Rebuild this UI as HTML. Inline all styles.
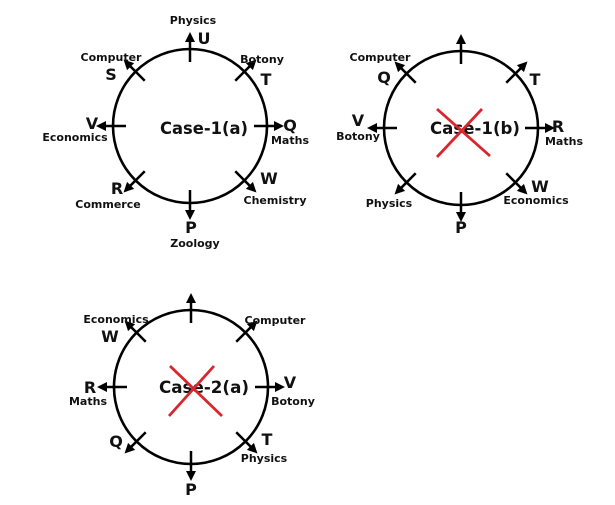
<!DOCTYPE html>
<html><head><meta charset="utf-8"><style>
html,body{margin:0;padding:0;background:#fff;}
svg{display:block;}
text{font-family:"DejaVu Sans","Liberation Sans",sans-serif;font-weight:bold;fill:#111;}
.s{font-size:11px;}
.l{font-size:16px;}
.c{font-size:17px;}
</style></head><body>
<svg width="615" height="505" viewBox="0 0 615 505" xmlns="http://www.w3.org/2000/svg">
<defs>
<g id="ar"><line x1="64" y1="0" x2="86" y2="0" stroke="#000" stroke-width="2.5"/><polygon points="94,0 84,-5 84,5" fill="#000"/></g>
<g id="all">
<circle r="77" fill="none" stroke="#000" stroke-width="2.6"/>
<use href="#ar" transform="rotate(0)"/><use href="#ar" transform="rotate(45)"/>
<use href="#ar" transform="rotate(90)"/><use href="#ar" transform="rotate(135)"/>
<use href="#ar" transform="rotate(180)"/><use href="#ar" transform="rotate(225)"/>
<use href="#ar" transform="rotate(270)"/><use href="#ar" transform="rotate(315)"/>
</g>
</defs>
<use href="#all" transform="translate(190,126)"/>
<use href="#all" transform="translate(461,128)"/>
<use href="#all" transform="translate(191,387)"/>

<g text-anchor="middle">
<text class="s" x="193" y="24">Physics</text>
<text class="l" x="204" y="44">U</text>
<text class="s" x="111" y="61">Computer</text>
<text class="l" x="111" y="80">S</text>
<text class="s" x="262" y="63">Botony</text>
<text class="l" x="266" y="85">T</text>
<text class="l" x="92" y="129">V</text>
<text class="s" x="75" y="141">Economics</text>
<text class="c" x="204" y="134" textLength="88" lengthAdjust="spacingAndGlyphs">Case-1(a)</text>
<text class="l" x="290" y="131">Q</text>
<text class="s" x="290" y="144">Maths</text>
<text class="l" x="117" y="194">R</text>
<text class="s" x="108" y="208">Commerce</text>
<text class="l" x="269" y="184">W</text>
<text class="s" x="275" y="204">Chemistry</text>
<text class="l" x="191" y="233">P</text>
<text class="s" x="195" y="247">Zoology</text>

<text class="s" x="380" y="61">Computer</text>
<text class="l" x="384" y="83">Q</text>
<text class="l" x="535" y="85">T</text>
<text class="l" x="358" y="126">V</text>
<text class="s" x="358" y="140">Botony</text>
<text class="c" x="475" y="134" textLength="90" lengthAdjust="spacingAndGlyphs">Case-1(b)</text>
<text class="l" x="558" y="132">R</text>
<text class="s" x="564" y="145">Maths</text>
<text class="s" x="389" y="207">Physics</text>
<text class="l" x="540" y="192">W</text>
<text class="s" x="536" y="204">Economics</text>
<text class="l" x="461" y="233">P</text>

<text class="s" x="116" y="323">Economics</text>
<text class="l" x="110" y="342">W</text>
<text class="s" x="275" y="324">Computer</text>
<text class="l" x="90" y="393">R</text>
<text class="s" x="88" y="405">Maths</text>
<text class="c" x="204" y="393" textLength="90" lengthAdjust="spacingAndGlyphs">Case-2(a)</text>
<text class="l" x="290" y="388">V</text>
<text class="s" x="293" y="405">Botony</text>
<text class="l" x="116" y="447">Q</text>
<text class="l" x="267" y="445">T</text>
<text class="s" x="264" y="462">Physics</text>
<text class="l" x="191" y="495">P</text>
</g>

<g stroke="#d9262e" stroke-width="2.8">
<line x1="437" y1="109" x2="490" y2="156"/><line x1="482" y1="109" x2="437" y2="157"/>
<line x1="170" y1="366" x2="222" y2="416"/><line x1="214" y1="366" x2="169" y2="416"/>
</g>
</svg>
</body></html>
